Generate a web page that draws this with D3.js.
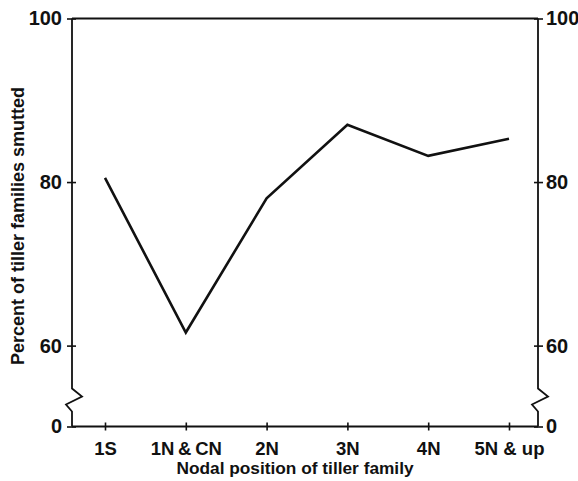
<!DOCTYPE html>
<html>
<head>
<meta charset="utf-8">
<script src="https://cdn.jsdelivr.net/npm/d3@7"></script>
<style>
  body { margin: 0; background: #fff; }
  text { font-family: "Liberation Sans", Arial, sans-serif; font-weight: bold; fill: #111; }
</style>
</head>
<body>
<div class="svg-container"></div>
<script>
// data
const CATEGORIES = ["1S", "1N\u2009&\u2009CN", "2N", "3N", "4N", "5N & up"];
const SMUTTED = [80.5, 61.6, 78.0, 87.0, 83.2, 85.3];
const Y_TICKS = [0, 60, 80, 100];

const width = 578;
const height = 481;
const plotLeft = 72;
const plotRight = 538;
const plotTop = 18.5;
const plotBottom = 426.5;

const svg = d3.select(".svg-container").append("svg")
    .attr("width", width)
    .attr("height", height);

// categories sit inside the frame, not on its edges
const xScale = d3.scalePoint()
    .domain(CATEGORIES)
    .range([105, 509]);

// broken axis: 0 is drawn at the bottom, 60-100 are linear above the break
const yScale = d3.scaleLinear()
    .domain([0, 55, 100])
    .range([plotBottom, 386.5, plotTop]);

// zig-zag of the axis break, offsets from the 0 line
const BREAK = [[0, -38], [10, -30], [-6, -22], [0, -15]];

function brokenAxisPath(x) {
    const p = d3.path();
    p.moveTo(x, yScale(100));
    BREAK.forEach(([dx, dy]) => p.lineTo(x + dx, plotBottom + dy));
    p.lineTo(x, yScale(0));
    return p.toString();
}

// crossing ticks, like the printed figure
function crossTicks(g, inner, outer, horizontal) {
    g.select(".domain").remove();
    g.selectAll(".tick line")
        .attr("stroke", "#111")
        .attr("stroke-width", 1.6)
        .attr(horizontal ? "x1" : "y1", inner)
        .attr(horizontal ? "x2" : "y2", outer);
}

// left axis
svg.append("g")
    .attr("transform", "translate(" + plotLeft + ",0)")
    .call(d3.axisLeft(yScale).tickValues(Y_TICKS).tickSize(5).tickPadding(5))
    .call(g => crossTicks(g, 4, -5, true))
    .call(g => g.selectAll(".tick text").attr("font-size", 20).attr("font-family", null));

// right axis
svg.append("g")
    .attr("transform", "translate(" + plotRight + ",0)")
    .call(d3.axisRight(yScale).tickValues(Y_TICKS).tickSize(5).tickPadding(3))
    .call(g => crossTicks(g, -4, 5, true))
    .call(g => g.selectAll(".tick text").attr("font-size", 20).attr("font-family", null));

// bottom axis
svg.append("g")
    .attr("transform", "translate(0," + plotBottom + ")")
    .call(d3.axisBottom(xScale).tickSize(4).tickPadding(11))
    .call(g => crossTicks(g, -4, 4, false))
    .call(g => g.selectAll(".tick text").attr("font-size", 18.5).attr("font-family", null));

// frame: top line, bottom line, broken verticals
const frame = svg.append("g")
    .attr("fill", "none")
    .attr("stroke", "#111")
    .attr("stroke-width", 1.8);

frame.append("line")
    .attr("x1", plotLeft).attr("x2", plotRight)
    .attr("y1", yScale(100)).attr("y2", yScale(100));
frame.append("line")
    .attr("x1", plotLeft).attr("x2", plotRight)
    .attr("y1", yScale(0)).attr("y2", yScale(0));
frame.append("path").attr("d", brokenAxisPath(plotLeft));
frame.append("path").attr("d", brokenAxisPath(plotRight));

// the data line
const line = d3.line()
    .x((d, i) => xScale(CATEGORIES[i]))
    .y(d => yScale(d));

svg.append("path")
    .datum(SMUTTED)
    .attr("fill", "none")
    .attr("stroke", "#111")
    .attr("stroke-width", 2.6)
    .attr("stroke-linejoin", "miter")
    .attr("d", line);

// axis titles
svg.append("text")
    .attr("x", 295)
    .attr("y", 474)
    .attr("text-anchor", "middle")
    .attr("font-size", 17.3)
    .text("Nodal position of tiller family");

svg.append("text")
    .attr("transform", "translate(24,226) rotate(-90)")
    .attr("text-anchor", "middle")
    .attr("font-size", 18)
    .text("Percent of tiller families smutted");
</script>
</body>
</html>
